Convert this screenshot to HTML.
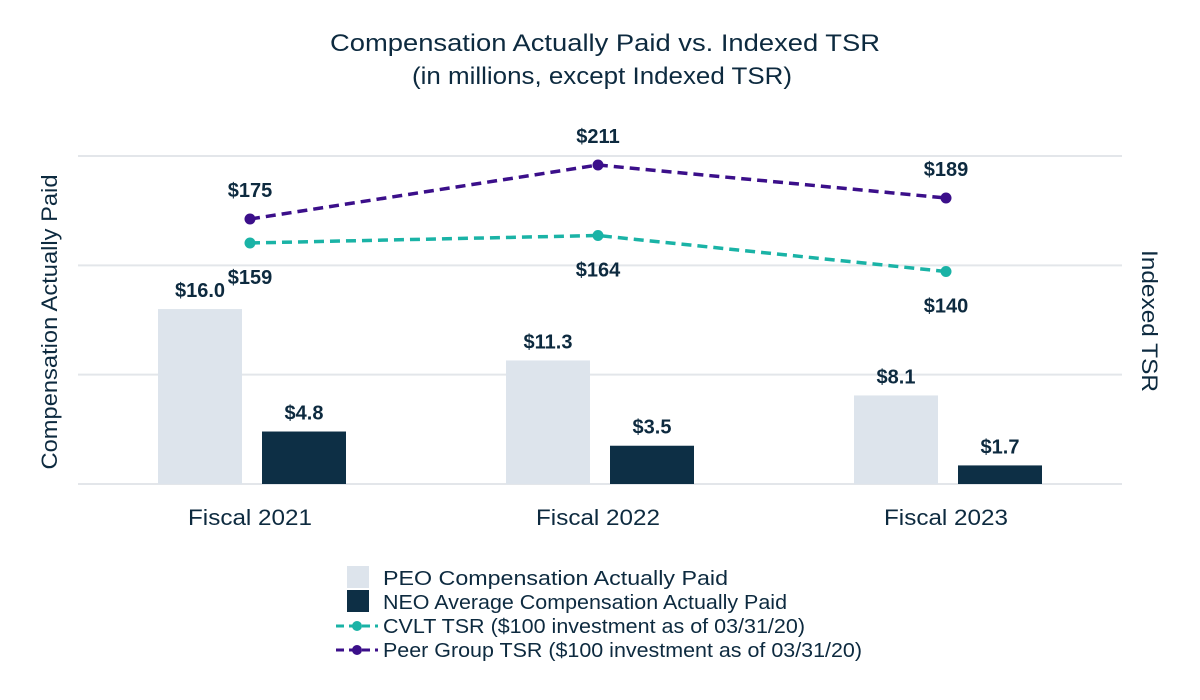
<!DOCTYPE html>
<html><head><meta charset="utf-8"><style>
body{margin:0;background:#fff}
svg{display:block;font-family:"Liberation Sans",Arial,sans-serif}
</style></head><body>
<svg id="chart" width="1200" height="700" viewBox="0 0 1200 700">
<text x="605" y="51" text-anchor="middle" font-size="24" textLength="550" lengthAdjust="spacingAndGlyphs" fill="#0d2a3f">Compensation Actually Paid vs. Indexed TSR</text>
<text x="602" y="84" text-anchor="middle" font-size="24" textLength="380" lengthAdjust="spacingAndGlyphs" fill="#0d2a3f">(in millions, except Indexed TSR)</text>
<text transform="translate(57,322) rotate(-90)" text-anchor="middle" font-size="22" textLength="295" lengthAdjust="spacingAndGlyphs" fill="#0d2a3f">Compensation Actually Paid</text>
<text transform="translate(1142,321) rotate(90)" text-anchor="middle" font-size="22" textLength="142" lengthAdjust="spacingAndGlyphs" fill="#0d2a3f">Indexed TSR</text>
<g id="grid"></g><g id="bars"></g><g id="lines"></g><g id="xlabels"></g>
<g>
<rect x="347" y="566" width="22" height="22" fill="#dde4ec"/>
<text x="383" y="585" font-size="20" textLength="345" lengthAdjust="spacingAndGlyphs" fill="#0d2a3f">PEO Compensation Actually Paid</text>
<rect x="347" y="590" width="22" height="22" fill="#0d2f45"/>
<text x="383" y="609" font-size="20" textLength="404" lengthAdjust="spacingAndGlyphs" fill="#0d2a3f">NEO Average Compensation Actually Paid</text>
<line x1="336" y1="626" x2="378" y2="626" stroke="#1ab3a6" stroke-width="3" stroke-dasharray="8,5"/>
<circle cx="357" cy="626" r="5" fill="#1ab3a6"/>
<text x="383" y="633" font-size="20" textLength="422" lengthAdjust="spacingAndGlyphs" fill="#0d2a3f">CVLT TSR ($100 investment as of 03/31/20)</text>
<line x1="336" y1="650" x2="378" y2="650" stroke="#3b0f8a" stroke-width="3" stroke-dasharray="8,5"/>
<circle cx="357" cy="650" r="5" fill="#3b0f8a"/>
<text x="383" y="657" font-size="20" textLength="479" lengthAdjust="spacingAndGlyphs" fill="#0d2a3f">Peer Group TSR ($100 investment as of 03/31/20)</text>
</g>
</svg>
<script>
const categories=["Fiscal 2021","Fiscal 2022","Fiscal 2023"];
const peoValues=[16.0,11.3,8.1];
const neoValues=[4.8,3.5,1.7];
const cvltTsr=[159,164,140];
const peerTsr=[175,211,189];
const leftTicks=[0,10,20,30];
const NS="http://www.w3.org/2000/svg";
const yL=v=>484-v*(328/30);
const yR=v=>481.5-v*1.5;
const xC=i=>250+i*348;
function mk(tag,attrs,parent,text){const e=document.createElementNS(NS,tag);for(const k in attrs)e.setAttribute(k,attrs[k]);if(text!==undefined)e.textContent=text;parent.appendChild(e);return e;}
const grid=document.getElementById('grid');
leftTicks.forEach(t=>{const l=mk('line',{x1:78,x2:1122,y1:yL(t),y2:yL(t),stroke:'#e3e6ea','stroke-width':2},grid);

});
const bars=document.getElementById('bars');
categories.forEach((c,i)=>{
 const x=xC(i);
 const b1=mk('rect',{x:x-92,y:yL(peoValues[i]),width:84,height:484-yL(peoValues[i]),fill:'#dde4ec'},bars);
 
 
 const t1=mk('text',{x:x-50,y:yL(peoValues[i])-12,'text-anchor':'middle','font-size':20,'font-weight':'bold',fill:'#0d2a3f'},bars,'$'+peoValues[i].toFixed(1));
 
 
 const b2=mk('rect',{x:x+12,y:yL(neoValues[i]),width:84,height:484-yL(neoValues[i]),fill:'#0d2f45'},bars);
 
 
 const t2=mk('text',{x:x+54,y:yL(neoValues[i])-12,'text-anchor':'middle','font-size':20,'font-weight':'bold',fill:'#0d2a3f'},bars,'$'+neoValues[i].toFixed(1));
 
 
 const xl=mk('text',{x:x,y:525,'text-anchor':'middle','font-size':22,textLength:124,lengthAdjust:'spacingAndGlyphs',fill:'#0d2a3f'},document.getElementById('xlabels'),c);
 
 
});
const lines=document.getElementById('lines');
function series(vals,color,name,off){
 const p=mk('polyline',{points:vals.map((v,i)=>xC(i)+','+yR(v)).join(' '),fill:'none',stroke:color,'stroke-width':3.5,'stroke-dasharray':'10,6'},lines);
 
 
 vals.forEach((v,i)=>{
  const c=mk('circle',{cx:xC(i),cy:yR(v),r:5.5,fill:color},lines);
  
  
  const t=mk('text',{x:xC(i),y:yR(v)+off,'text-anchor':'middle','font-size':20,'font-weight':'bold',fill:'#0d2a3f'},lines,'$'+v);
  
  
 });
}
series(cvltTsr,'#1ab3a6','cvlt-tsr',41);
series(peerTsr,'#3b0f8a','peer-tsr',-22);
</script>
</body></html>
